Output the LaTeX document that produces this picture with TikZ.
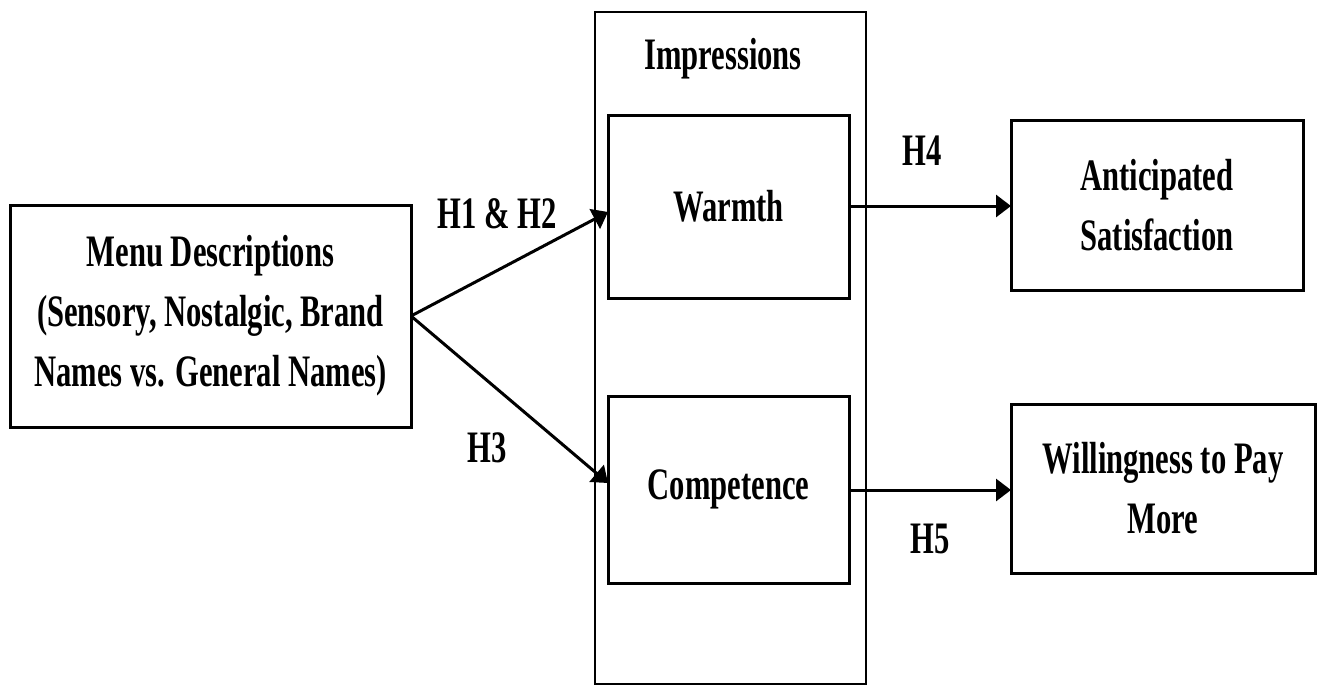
\documentclass[tikz,border=0pt]{standalone}
\usepackage{fontspec}
\newfontfamily\diag{Liberation Serif}[FakeStretch=0.68]
\usetikzlibrary{arrows.meta}
\begin{document}
\begin{tikzpicture}[x=1pt,y=-1pt,
  every node/.style={font=\diag\bfseries\fontsize{45}{60}\selectfont, inner sep=0pt, outer sep=0pt},
  box/.style={draw, line width=3pt, align=center},
  conn/.style={line width=3pt, -{Triangle[length=15pt,width=22pt]}},
  lbl/.style={anchor=base}]
\useasboundingbox (0,0) rectangle (1323,685);
\node[box, line width=2.4pt, minimum width=271pt, minimum height=672pt] (imp) at (730.5,348) {};
\node[lbl] (title) at (723,70) {Impressions};
\node[box, minimum width=401pt, minimum height=222pt] (menu) at (210.5,316)
  {Menu Descriptions\\(Sensory, Nostalgic, Brand\\Names vs. General Names)};
\node[box, minimum width=241pt, minimum height=183pt] (warm) at (728.5,206.5) {Warmth};
\node[box, minimum width=241pt, minimum height=187pt] (comp) at (728.5,489.5) {Competence};
\node[box, minimum width=292pt, minimum height=170pt] (anti) at (1157,205) {Anticipated\\Satisfaction};
\node[box, minimum width=304pt, minimum height=169pt] (will) at (1163,488.5) {Willingness to Pay\\More};
\draw[conn] (menu.east) -- (warm.west |- 0,212);
\draw[conn] (menu.east) -- (comp.west |- 0,483);
\draw[conn] (warm.east |- 0,206) -- (anti.west |- 0,206);
\draw[conn] (comp.east |- 0,490) -- (will.west |- 0,490);
\node[lbl] (h12) at (497,228) {H1 \& H2};
\node[lbl] (h3) at (487,462) {H3};
\node[lbl] (h4) at (922,165) {H4};
\node[lbl] (h5) at (930,553) {H5};
\end{tikzpicture}
\end{document}
